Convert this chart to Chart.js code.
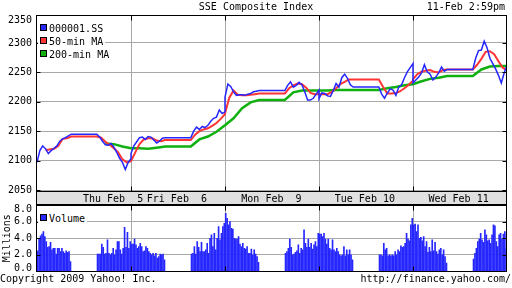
<!DOCTYPE html>
<html><head><meta charset="utf-8">
<script src="https://cdn.jsdelivr.net/npm/chart.js@4"></script>
<style>
html,body{margin:0;padding:0;background:#fff;}
#wrap{position:relative;width:512px;height:288px;overflow:hidden;font-family:"DejaVu Sans Mono",monospace;font-size:10px;color:#000;}
canvas{position:absolute;left:0;}
#c1{top:0;}
#c2{top:193px;}
.t{position:absolute;white-space:pre;line-height:12px;}
.box{position:absolute;background:#fff;}
.sw{position:absolute;width:5px;height:5px;border:1px solid #000;}
</style>
</head><body>
<div id="wrap">
<canvas id="c1" width="512" height="205"></canvas>
<canvas id="c2" width="512" height="95"></canvas>
<div class="t" style="left:0;width:512px;top:1px;text-align:center;">SSE Composite Index</div>
<div class="t" style="right:7px;top:1px;">11-Feb 2:59pm</div>
<div class="t" style="left:0;top:273px;">Copyright 2009 Yahoo! Inc.</div>
<div class="t" style="right:1px;top:273px;">http://finance.yahoo.com/</div>
<div id="legend1"></div>
<div id="legend2"></div>
</div>
<script>
// ---------------- DATA ----------------
const dayLabels = ['Thu Feb  5', 'Fri Feb  6', 'Mon Feb  9', 'Tue Feb 10', 'Wed Feb 11'];
const priceTicks = [2050, 2100, 2150, 2200, 2250, 2300, 2350];
const volumeTicks = [0, 2, 4, 6, 8];

// 000001.SS, one row per day: 9:30..11:30 every 10 min (13), then 13:10..15:00 every 10 min (12)
const price = [
  [2097, 2117, 2125, 2120, 2112, 2117, 2121, 2125, 2133, 2137, 2139, 2142, 2145,
   2140, 2133, 2127, 2126, 2129, 2123, 2114, 2104, 2097, 2085, 2097, 2103],
  [2112, 2125, 2132, 2139, 2140, 2136, 2141, 2140, 2135, 2130, 2133, 2138, 2139,
   2150, 2157, 2153, 2158, 2156, 2160, 2167, 2172, 2174, 2186, 2180, 2183],
  [2208, 2230, 2226, 2217, 2211, 2212, 2212, 2211, 2213, 2214, 2217, 2218, 2219,
   2228, 2234, 2225, 2228, 2233, 2229, 2217, 2203, 2203, 2206, 2213, 2220],
  [2205, 2215, 2214, 2210, 2209, 2219, 2231, 2225, 2241, 2247, 2240, 2229, 2225,
   2213, 2206, 2215, 2222, 2220, 2211, 2225, 2229, 2241, 2251, 2258, 2265],
  [2232, 2237, 2242, 2249, 2263, 2251, 2247, 2237, 2242, 2249, 2259, 2252, 2255,
   2274, 2287, 2288, 2303, 2292, 2274, 2265, 2256, 2245, 2232, 2249, 2262]
];
// 50-min MA: 9:30..11:30 every 15 min (9), then 13:15..15:00 every 15 min (8)
const ma50 = [
  [null, null, 2118, 2119, 2120, 2125, 2137, 2138, 2141,
   2139, 2132, 2127, 2121, 2114, 2102, 2097, 2099],
  [2099, 2114, 2128, 2136, 2138, 2138, 2134, 2133, 2135,
   2144, 2150, 2153, 2155, 2159, 2164, 2171, 2179],
  [2180, 2207, 2219, 2212, 2211, 2211, 2212, 2213, 2214,
   2223, 2228, 2231, 2230, 2224, 2215, 2213, 2213],
  [2213, 2213, 2213, 2217, 2223, 2230, 2234, 2238, 2238,
   2225, 2214, 2214, 2215, 2218, 2223, 2229, 2236],
  [2238, 2247, 2251, 2253, 2254, 2251, 2250, 2254, 2255,
   2263, 2273, 2285, 2286, 2281, 2269, 2258, 2254]
];
// 200-min MA: 9:30..11:30 every 30 min (5), then 13:30..15:00 every 30 min (4)
const ma200 = [
  [null, null, null, null, null, 2129, 2128, 2124, 2121],
  [2121, 2121, 2120, 2122, 2124, 2136, 2141, 2149, 2160],
  [2160, 2172, 2189, 2199, 2203, 2216, 2219, 2219, 2219],
  [2219, 2219, 2220, 2220, 2220, 2223, 2225, 2228, 2230],
  [2230, 2235, 2239, 2241, 2244, 2255, 2260, 2261, 2261]
];
// Volume (millions), 5-min bars: 24 morning + 24 afternoon per day
const volume = [
  [2.5, 4.0, 4.3, 4.5, 4.8, 4.2, 3.6, 2.9, 3.0, 3.5, 2.6, 2.8, 2.8, 2.1, 2.8, 2.8, 2.4, 2.8, 2.4, 2.2, 2.5, 2.3, 2.4, 1.2,
   2.1, 2.1, 2.1, 3.3, 2.9, 2.1, 2.2, 3.8, 2.2, 2.0, 2.2, 2.8, 2.0, 2.6, 3.6, 3.6, 2.6, 2.1, 2.8, 5.3, 2.9, 4.7, 2.8, 3.6],
  [3.3, 3.3, 3.9, 3.2, 2.8, 3.0, 3.4, 3.0, 2.4, 2.5, 3.0, 2.8, 2.4, 2.2, 2.0, 2.2, 1.9, 2.2, 1.6, 1.8, 2.1, 2.0, 2.1, 1.4,
   2.1, 2.2, 3.0, 2.1, 3.6, 2.9, 2.4, 3.5, 2.4, 2.4, 2.6, 3.4, 2.2, 4.0, 4.4, 3.0, 4.6, 2.6, 4.0, 5.4, 3.8, 4.6, 5.4, 5.8],
  [7.0, 6.4, 5.6, 6.0, 5.2, 5.1, 4.0, 3.9, 3.9, 4.2, 3.3, 3.0, 3.4, 2.8, 2.7, 3.0, 2.2, 2.2, 2.7, 2.0, 2.6, 2.1, 1.8, 1.1,
   2.2, 2.4, 2.8, 3.9, 2.9, 2.0, 2.1, 2.3, 2.5, 3.2, 2.2, 2.8, 2.6, 5.0, 3.4, 2.9, 3.9, 2.9, 3.4, 2.7, 3.2, 3.6, 3.0, 4.6],
  [4.5, 4.5, 4.2, 4.6, 3.9, 3.3, 3.9, 2.8, 2.6, 3.8, 2.6, 2.4, 2.8, 2.4, 2.0, 1.9, 2.0, 3.0, 1.9, 2.6, 2.0, 2.6, 2.0, 1.4,
   2.0, 2.0, 1.9, 3.4, 2.6, 2.8, 1.9, 2.0, 1.9, 2.0, 1.9, 2.4, 2.0, 2.6, 2.4, 3.1, 2.9, 3.0, 3.4, 4.6, 3.9, 3.7, 5.6, 6.4],
  [5.6, 5.7, 4.8, 5.6, 4.0, 4.1, 3.7, 4.2, 3.0, 3.6, 2.3, 2.9, 2.4, 3.8, 2.5, 3.5, 2.4, 2.1, 2.6, 2.8, 2.0, 2.6, 1.8, 1.0,
   1.5, 2.2, 2.8, 3.6, 3.9, 4.6, 3.8, 3.5, 5.0, 4.4, 3.7, 3.8, 3.4, 4.4, 5.6, 5.5, 3.6, 3.0, 4.4, 4.6, 3.9, 4.5, 4.8, 2.8]
];

// ---------------- TIME AXIS (minutes, each day 9:30-15:00 = 330 min) ----------------
const DAY = 330, LUNCH_START = 120, LUNCH_END = 210;
function sessionSeries(days, step) {
  const n = LUNCH_START / step, pts = [];
  days.forEach((vals, d) => {
    const base = d * DAY;
    for (let i = 0; i <= n; i++) pts.push({x: base + i * step, y: vals[i]});
    pts.push({x: base + LUNCH_END, y: vals[n]}); // no trading over lunch: value held
    for (let i = 1; i <= n; i++) pts.push({x: base + LUNCH_END + i * step, y: vals[n + i]});
  });
  return pts;
}
function barSeries(days) {
  const pts = [];
  days.forEach((vals, d) => {
    vals.forEach((v, i) => {
      const m = i < 24 ? i * 5 + 2.5 : LUNCH_END + (i - 24) * 5 + 2.5;
      pts.push({x: d * DAY + m, y: v});
    });
  });
  return pts;
}

// ---------------- STYLE ----------------
const FONT = {family: "'DejaVu Sans Mono', monospace", size: 10};
const GRID = '#a8a8a8';
const BLUE = '#2626ff', RED = '#ff3434', GREEN = '#10b010';
const labelMinutes = [267, 491, 823, 1151, 1480];
const dayBounds = [330, 660, 990, 1320];

function framePlugin(withBand) {
  const edges = (chart) => {
    const a = chart.chartArea;
    return {L: Math.round(a.left) - 0.5, R: Math.round(a.right) - 0.5,
            T: Math.round(a.top) + 0.5, B: Math.round(a.bottom) - 0.5};
  };
  return {
    id: 'frame' + (withBand ? 1 : 2),
    beforeDraw(chart) {
      if (!withBand) return;
      const {ctx} = chart, {L, R, B} = edges(chart);
      ctx.save();
      ctx.fillStyle = '#e0e0e0';
      ctx.fillRect(L, B, R - L, 13);
      ctx.restore();
    },
    afterDraw(chart) {
      const {ctx, scales} = chart, {L, R, T, B} = edges(chart);
      ctx.save();
      ctx.strokeStyle = '#000';
      ctx.lineWidth = 1;
      if (withBand) ctx.strokeRect(L, B, R - L, 13);
      ctx.strokeRect(L, T, R - L, B - T);
      ctx.beginPath();
      const y = scales.y;
      y.ticks.forEach(t => {
        if (t.hideGrid) return;
        const py = Math.round(y.getPixelForValue(t.value)) + 0.5;
        ctx.moveTo(L, py); ctx.lineTo(L + 4, py);
        ctx.moveTo(R - 4, py); ctx.lineTo(R, py);
      });
      const g = scales.xg;
      dayBounds.forEach(v => {
        const px = Math.round(g.getPixelForValue(v)) + 0.5;
        ctx.moveTo(px, T); ctx.lineTo(px, T + 5);
        ctx.moveTo(px, B - 5); ctx.lineTo(px, B);
      });
      ctx.stroke();
      ctx.restore();
    }
  };
}
function dayGridAxis() {
  return {
    type: 'linear', position: 'top', min: 0, max: 5 * DAY, offset: false,
    afterBuildTicks: s => { s.ticks = dayBounds.map(v => ({value: v})); },
    afterFit: s => { s.height = 0; },
    ticks: {display: false},
    grid: {color: GRID, lineWidth: 1, drawTicks: false, offset: false},
    border: {display: false}
  };
}

// ---------------- PRICE CHART ----------------
const chart1 = new Chart(document.getElementById('c1'), {
  type: 'line',
  data: {
    datasets: [
      {label: '000001.SS', data: sessionSeries(price, 10), borderColor: BLUE, backgroundColor: BLUE, borderWidth: 1.5},
      {label: '50-min MA', data: sessionSeries(ma50, 15), borderColor: RED, backgroundColor: RED, borderWidth: 2},
      {label: '200-min MA', data: sessionSeries(ma200, 30), borderColor: GREEN, backgroundColor: GREEN, borderWidth: 2.5}
    ]
  },
  options: {
    responsive: false, animation: false,
    layout: {padding: {top: 15, right: 5, left: 0, bottom: 0}},
    elements: {point: {radius: 0}, line: {tension: 0}},
    plugins: {legend: {display: false}, tooltip: {enabled: false}},
    scales: {
      x: {
        type: 'linear', position: 'bottom', min: 0, max: 5 * DAY,
        afterBuildTicks: s => { s.ticks = labelMinutes.map(v => ({value: v})); },
        afterFit: s => { s.height = 13; },
        grid: {display: false, drawTicks: false}, border: {display: false},
        ticks: {autoSkip: false, maxRotation: 0, padding: 1, color: '#000', font: FONT,
                callback: (v, i) => dayLabels[i]}
      },
      xg: dayGridAxis(),
      y: {
        min: 2046.6, max: 2347.6,
        afterBuildTicks: s => {
          s.ticks = priceTicks.map(v => {
            const c = Math.min(v, s.max - 9.4);
            return {value: c, hideGrid: c !== v};
          });
        },
        afterFit: s => { s.width = 37; },
        grid: {color: c => (c.tick && c.tick.hideGrid) ? 'rgba(0,0,0,0)' : GRID, drawTicks: false},
        border: {display: false},
        ticks: {padding: 5, color: '#000', font: FONT, callback: (v, i) => String(priceTicks[i])}
      }
    }
  },
  plugins: [framePlugin(true)]
});

// ---------------- VOLUME CHART ----------------
const chart2 = new Chart(document.getElementById('c2'), {
  type: 'bar',
  data: {
    datasets: [
      {label: 'Volume', data: barSeries(volume), backgroundColor: BLUE, borderWidth: 0, barThickness: 1}
    ]
  },
  options: {
    responsive: false, animation: false,
    layout: {padding: {top: 12, right: 5, left: 0, bottom: 16.5}},
    plugins: {legend: {display: false}, tooltip: {enabled: false}},
    scales: {
      x: {
        type: 'linear', position: 'bottom', min: 0, max: 5 * DAY, offset: false,
        afterFit: s => { s.height = 0; },
        ticks: {display: false}, grid: {display: false, drawTicks: false, offset: false}, border: {display: false}
      },
      xg: dayGridAxis(),
      y: {
        min: 0, max: 8,
        afterBuildTicks: s => {
          s.ticks = volumeTicks.map(v => {
            const c = Math.max(s.min + 0.42, Math.min(s.max - 0.54, v));
            return {value: c, hideGrid: c !== v};
          });
        },
        afterFit: s => { s.width = 37; },
        grid: {color: c => (c.tick && c.tick.hideGrid) ? 'rgba(0,0,0,0)' : GRID, drawTicks: false},
        border: {display: false},
        title: {display: true, text: 'Millions', color: '#000', font: FONT, padding: {top: 1.5, bottom: 0}},
        ticks: {padding: 5, color: '#000', font: FONT, callback: (v, i) => volumeTicks[i].toFixed(1)}
      }
    }
  },
  plugins: [framePlugin(false)]
});

// ---------------- HTML LEGENDS (from dataset labels/colours) ----------------
function buildLegend(el, chart, left, top, w, h, rowTop) {
  const box = document.createElement('div');
  box.className = 'box';
  Object.assign(box.style, {left: left + 'px', top: top + 'px', width: w + 'px', height: h + 'px'});
  el.appendChild(box);
  chart.data.datasets.forEach((ds, i) => {
    const y = rowTop + i * 13;
    const sw = document.createElement('div');
    sw.className = 'sw';
    Object.assign(sw.style, {left: '40px', top: (y + 1) + 'px', background: ds.backgroundColor});
    el.appendChild(sw);
    const tx = document.createElement('div');
    tx.className = 't';
    Object.assign(tx.style, {left: '49px', top: y + 'px'});
    tx.textContent = ds.label;
    el.appendChild(tx);
  });
}
buildLegend(document.getElementById('legend1'), chart1, 38, 16, 67, 44, 23);
buildLegend(document.getElementById('legend2'), chart2, 38, 206, 49, 19, 213);
</script>
</body></html>
